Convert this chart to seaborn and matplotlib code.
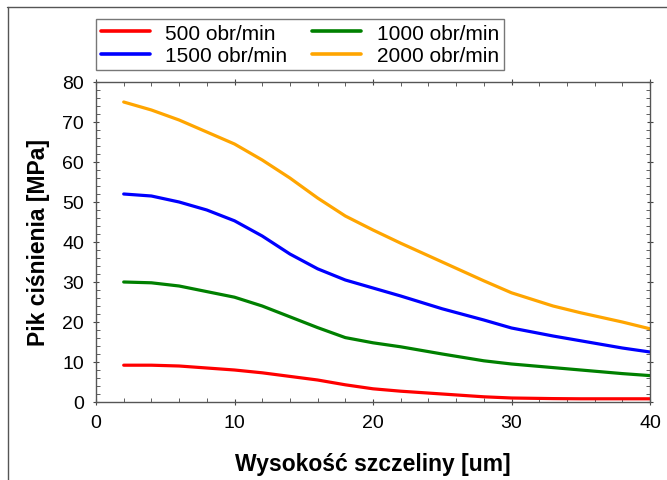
import numpy as np
import pandas as pd
import matplotlib
matplotlib.use('Agg')
import matplotlib.pyplot as plt
from matplotlib.lines import Line2D
from matplotlib.ticker import MultipleLocator
import seaborn as sns

# gap height [um]
gap = [2, 4, 6, 8, 10, 12, 14, 16, 18, 20, 22, 25, 28, 30, 33, 35, 38, 40]

# peak pressure [MPa] per speed
p500 = [9.2, 9.2, 9.0, 8.5, 8.0, 7.3, 6.4, 5.5, 4.3, 3.3, 2.7, 2.0, 1.3, 1.0, 0.85, 0.8, 0.8, 0.8]
p1000 = [30.0, 29.8, 29.0, 27.6, 26.2, 24.0, 21.3, 18.6, 16.1, 14.8, 13.8, 12.0, 10.3, 9.5, 8.6, 8.0, 7.1, 6.6]
p1500 = [52.0, 51.5, 50.0, 48.0, 45.3, 41.5, 37.0, 33.3, 30.5, 28.5, 26.5, 23.3, 20.5, 18.5, 16.5, 15.3, 13.5, 12.5]
p2000 = [75.0, 73.0, 70.5, 67.5, 64.5, 60.5, 56.0, 51.0, 46.5, 43.0, 39.7, 35.0, 30.3, 27.3, 24.0, 22.3, 20.0, 18.3]

labels = ['500 obr/min', '1000 obr/min', '1500 obr/min', '2000 obr/min']
colors = {'500 obr/min': '#ff0000', '1000 obr/min': '#008000',
          '1500 obr/min': '#0000ff', '2000 obr/min': '#ffa500'}

df = pd.DataFrame({
    'gap': gap * 4,
    'p': p500 + p1000 + p1500 + p2000,
    'speed': np.repeat(labels, len(gap)),
})

sns.set_style('ticks')
plt.rcParams['font.family'] = ['Liberation Sans', 'DejaVu Sans']
plt.rcParams['text.color'] = 'black'
plt.rcParams['axes.labelcolor'] = 'black'
plt.rcParams['xtick.labelcolor'] = 'black'
plt.rcParams['ytick.labelcolor'] = 'black'

fig = plt.figure(figsize=(6.67, 4.81), dpi=100)
ax = fig.add_axes([96/667, 1-403/481, (650-96)/667, (403-83)/481])

sns.lineplot(data=df, x='gap', y='p', hue='speed', palette=colors,
             hue_order=labels, linewidth=2.3, ax=ax, legend=False)

ax.set_xlim(0, 40)
ax.set_ylim(0, 80)
ax.xaxis.set_major_locator(MultipleLocator(10))
ax.xaxis.set_minor_locator(MultipleLocator(2))
ax.yaxis.set_major_locator(MultipleLocator(10))
ax.yaxis.set_minor_locator(MultipleLocator(2))
ax.tick_params(which='both', top=True, right=True, direction='in',
               color='#444444', labelsize=14)
ax.tick_params(which='major', length=5, direction='inout', pad=6)
ax.tick_params(which='minor', length=3)
for s in ax.spines.values():
    s.set_color('#555555')
    s.set_linewidth(1)

ax.set_xlabel('Wysokość szczeliny [um]', fontsize=16.5, fontweight='bold', labelpad=15)
ax.set_ylabel('Pik ciśnienia [MPa]', fontsize=16.5, fontweight='bold', labelpad=9)

handles = [Line2D([], [], color=colors[l], lw=2.6) for l in labels]
order = [0, 2, 1, 3]
leg = fig.legend([handles[i] for i in order], [labels[i] for i in order],
                 ncol=2, loc='upper left', bbox_to_anchor=(96/667, 1-20/481),
                 fontsize=15, frameon=True, fancybox=False, framealpha=1,
                 edgecolor='#777777', handlelength=2.35, handletextpad=0.75,
                 columnspacing=1.2, borderpad=0.22, labelspacing=0.18,
                 borderaxespad=0)
leg.get_frame().set_linewidth(1)

# screenshot frame lines (top and left)
fig.add_artist(Line2D([7/667, 1], [1-8/481, 1-8/481], color='#555555', lw=1))
fig.add_artist(Line2D([8/667, 8/667], [0, 1-8/481], color='#555555', lw=1))

fig.savefig('out.png', dpi=100)
